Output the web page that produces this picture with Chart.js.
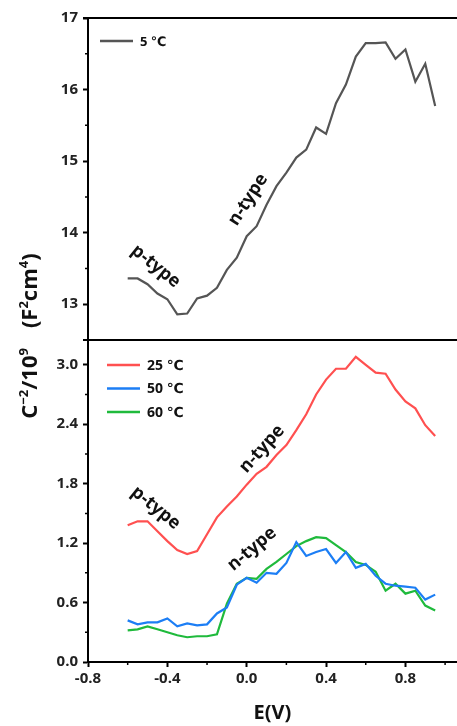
<!DOCTYPE html>
<html>
<head>
<meta charset="utf-8">
<script src="https://cdn.jsdelivr.net/npm/chart.js@4.4.0/dist/chart.umd.min.js"></script>
<style>
html,body{margin:0;padding:0;background:#fff;}
</style>
</head>
<body>
<canvas id="myChart" width="457" height="726"></canvas>
<script>
// bias voltage (V)
var voltage = [-0.6, -0.55, -0.5, -0.45, -0.4, -0.35, -0.3, -0.25, -0.2, -0.15, -0.1, -0.05,
               0.0, 0.05, 0.1, 0.15, 0.2, 0.25, 0.3, 0.35, 0.4, 0.45, 0.5, 0.55,
               0.6, 0.65, 0.7, 0.75, 0.8, 0.85, 0.9, 0.95];

// C^-2 / 10^9
var c5 = [13.36, 13.36, 13.28, 13.15, 13.07, 12.86, 12.87, 13.08, 13.12, 13.23, 13.48, 13.65,
          13.95, 14.09, 14.39, 14.65, 14.84, 15.05, 15.16, 15.47, 15.38, 15.81, 16.07, 16.46,
          16.65, 16.65, 16.66, 16.43, 16.56, 16.11, 16.36, 15.77];
var c25 = [1.38, 1.42, 1.42, 1.32, 1.22, 1.13, 1.09, 1.12, 1.29, 1.46, 1.57, 1.67,
           1.79, 1.90, 1.97, 2.09, 2.19, 2.34, 2.50, 2.70, 2.85, 2.96, 2.96, 3.08,
           3.00, 2.92, 2.91, 2.75, 2.63, 2.56, 2.39, 2.28];
var c50 = [0.42, 0.38, 0.40, 0.40, 0.44, 0.36, 0.39, 0.37, 0.38, 0.49, 0.55, 0.78,
           0.85, 0.80, 0.90, 0.89, 1.00, 1.21, 1.07, 1.11, 1.14, 1.00, 1.11, 0.95,
           0.99, 0.87, 0.79, 0.77, 0.76, 0.75, 0.63, 0.68];
var c60 = [0.32, 0.33, 0.36, 0.33, 0.30, 0.27, 0.25, 0.26, 0.26, 0.28, 0.59, 0.79,
           0.85, 0.84, 0.94, 1.01, 1.09, 1.17, 1.22, 1.26, 1.25, 1.18, 1.11, 1.01,
           0.98, 0.91, 0.72, 0.79, 0.69, 0.72, 0.57, 0.52];

var seriesNames = ["5 \u2103", "25 \u2103", "50 \u2103", "60 \u2103"];
var seriesColors = ["#555555", "#ff5050", "#1c7ef5", "#1fba3c"];

var xTicks = [-0.8, -0.4, 0.0, 0.4, 0.8];
var xMinor = [-0.6, -0.2, 0.2, 0.6, 1.0];
var topTicks = [13, 14, 15, 16, 17];
var topMinor = [13.5, 14.5, 15.5, 16.5];
var botTicks = [0.0, 0.6, 1.2, 1.8, 2.4, 3.0];
var botMinor = [0.3, 0.9, 1.5, 2.1, 2.7];

var FONT = "'Open Sans', 'DejaVu Sans', sans-serif";

function pts(ys) {
  return voltage.map(function (v, i) { return { x: v, y: ys[i] }; });
}

// rotated text labels on the curves
var notes = [
  { text: "p-type", axis: "yTop", x: -0.458, y: 13.53, angle: 39 },
  { text: "n-type", axis: "yTop", x: 0.007, y: 14.46, angle: -57 },
  { text: "p-type", axis: "yBot", x: -0.458, y: 1.556, angle: 39 },
  { text: "n-type", axis: "yBot", x: 0.077, y: 2.15, angle: -48 },
  { text: "n-type", axis: "yBot", x: 0.027, y: 1.14, angle: -40 }
];

var extras = {
  id: "extras",
  afterDraw: function (chart) {
    var ctx = chart.ctx;
    var a = chart.chartArea;
    var sx = chart.scales.x, st = chart.scales.yTop, sb = chart.scales.yBot;
    ctx.save();

    // frame lines
    ctx.strokeStyle = "#000";
    ctx.lineWidth = 2;
    ctx.beginPath();
    ctx.moveTo(a.left - 5, a.top); ctx.lineTo(a.right, a.top);
    ctx.moveTo(a.left - 5, st.bottom); ctx.lineTo(a.right, st.bottom);
    ctx.stroke();

    // minor ticks
    ctx.lineWidth = 1.5;
    ctx.beginPath();
    xMinor.forEach(function (v) {
      var p = sx.getPixelForValue(v);
      ctx.moveTo(p, sx.top); ctx.lineTo(p, sx.top + 3);
    });
    topMinor.forEach(function (v) {
      var p = st.getPixelForValue(v);
      ctx.moveTo(a.left, p); ctx.lineTo(a.left - 3, p);
    });
    botMinor.forEach(function (v) {
      var p = sb.getPixelForValue(v);
      ctx.moveTo(a.left, p); ctx.lineTo(a.left - 3, p);
    });
    ctx.stroke();

    // legends
    ctx.textBaseline = "middle";
    ctx.textAlign = "left";
    ctx.fillStyle = "#111";
    chart.data.datasets.forEach(function (ds, i) {
      var lx, ly, fs;
      if (i === 0) { lx = a.left + 12; ly = st.top + 23; fs = 13; }
      else { lx = a.left + 19; ly = sb.top + 25 + (i - 1) * 23.5; fs = 14; }
      ctx.strokeStyle = ds.borderColor;
      ctx.lineWidth = 2.5;
      ctx.beginPath(); ctx.moveTo(lx, ly); ctx.lineTo(lx + 33, ly); ctx.stroke();
      ctx.font = "bold " + fs + "px " + FONT;
      ctx.fillText(ds.label, lx + 40, ly + 1);
    });

    // notes
    ctx.font = "bold 18px " + FONT;
    ctx.textAlign = "center";
    ctx.fillStyle = "#111";
    notes.forEach(function (n) {
      var px = sx.getPixelForValue(n.x);
      var py = chart.scales[n.axis].getPixelForValue(n.y);
      ctx.save();
      ctx.translate(px, py);
      ctx.rotate(n.angle * Math.PI / 180);
      ctx.fillText(n.text, 0, 0);
      ctx.restore();
    });

    // x title
    ctx.font = "bold 20px " + FONT;
    ctx.fillText("E(V)", (a.left + a.right) / 2, 713);

    // y title with superscripts
    var segs = [["C", 0], ["\u22122", 1], ["/10", 0], ["9", 1], [null, 0], ["(F", 0], ["2", 1], ["cm", 0], ["4", 1], [")", 0]];
    var big = "bold 22px " + FONT, small = "bold 13px " + FONT, gap = 20;
    var total = 0;
    segs.forEach(function (s) {
      if (s[0] === null) { total += gap; return; }
      ctx.font = s[1] ? small : big;
      total += ctx.measureText(s[0]).width;
    });
    ctx.save();
    ctx.translate(31, 336);
    ctx.rotate(-Math.PI / 2);
    ctx.textAlign = "left";
    ctx.textBaseline = "middle";
    var cx = -total / 2;
    segs.forEach(function (s) {
      if (s[0] === null) { cx += gap; return; }
      ctx.font = s[1] ? small : big;
      ctx.fillText(s[0], cx, s[1] ? -7 : 0);
      cx += ctx.measureText(s[0]).width;
    });
    ctx.restore();

    ctx.restore();
  }
};

var tickFont = { family: FONT, size: 15, weight: "bold" };

new Chart("myChart", {
  type: "line",
  data: {
    datasets: [
      { label: seriesNames[0], data: pts(c5), yAxisID: "yTop", borderColor: seriesColors[0] },
      { label: seriesNames[1], data: pts(c25), yAxisID: "yBot", borderColor: seriesColors[1] },
      { label: seriesNames[2], data: pts(c50), yAxisID: "yBot", borderColor: seriesColors[2] },
      { label: seriesNames[3], data: pts(c60), yAxisID: "yBot", borderColor: seriesColors[3] }
    ]
  },
  options: {
    responsive: false,
    animation: false,
    devicePixelRatio: 1,
    layout: { padding: { top: 18, right: 0, left: 0, bottom: 0 } },
    elements: {
      point: { radius: 0 },
      line: { borderWidth: 2.2, tension: 0, fill: false }
    },
    plugins: { legend: { display: false }, tooltip: { enabled: false } },
    scales: {
      x: {
        type: "linear", min: -0.8, max: 1.06,
        afterBuildTicks: function (s) { s.ticks = xTicks.map(function (v) { return { value: v }; }); },
        afterFit: function (s) { s.height = 64; },
        grid: { drawOnChartArea: false, tickLength: 5, tickWidth: 2, tickColor: "#000" },
        border: { color: "#000", width: 2 },
        ticks: { font: tickFont, color: "#222", padding: 3, maxRotation: 0,
                 callback: function (v) { return v.toFixed(1); } }
      },
      yBot: {
        type: "linear", position: "left", stack: "panels", stackWeight: 1,
        min: 0, max: 3.25,
        afterBuildTicks: function (s) { s.ticks = botTicks.map(function (v) { return { value: v }; }); },
        afterFit: function (s) { s.width = 88; },
        grid: { drawOnChartArea: false, tickLength: 5, tickWidth: 2, tickColor: "#000" },
        border: { color: "#000", width: 2 },
        ticks: { font: tickFont, color: "#222", padding: 5,
                 callback: function (v) { return v.toFixed(1); } }
      },
      yTop: {
        type: "linear", position: "left", stack: "panels", stackWeight: 1,
        min: 12.5, max: 17,
        afterBuildTicks: function (s) { s.ticks = topTicks.map(function (v) { return { value: v }; }); },
        afterFit: function (s) { s.width = 88; },
        grid: { drawOnChartArea: false, tickLength: 5, tickWidth: 2, tickColor: "#000" },
        border: { color: "#000", width: 2 },
        ticks: { font: tickFont, color: "#222", padding: 5,
                 callback: function (v) { return String(v); } }
      }
    }
  },
  plugins: [extras]
});
</script>
</body>
</html>
